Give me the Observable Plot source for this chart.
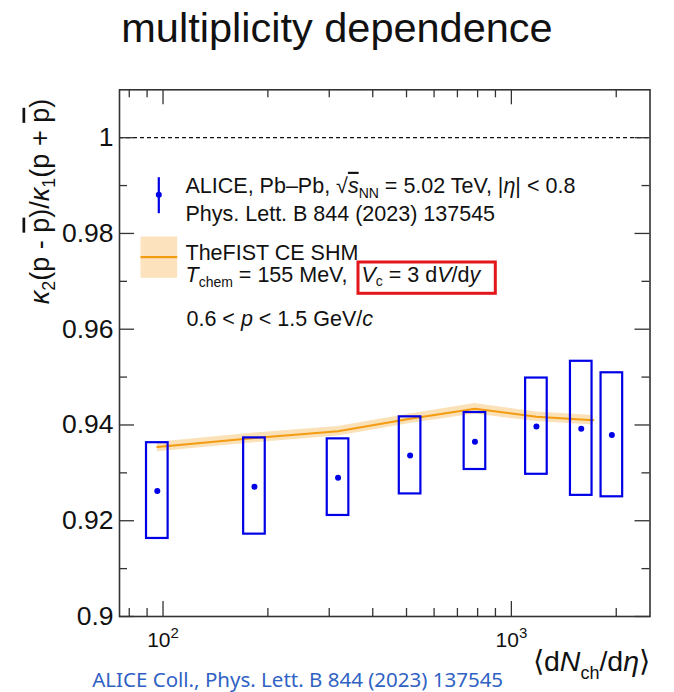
<!DOCTYPE html>
<html>
<head>
<meta charset="utf-8">
<script src="https://cdn.jsdelivr.net/npm/d3@7"></script>
<script src="https://cdn.jsdelivr.net/npm/@observablehq/plot@0.6"></script>
<style>
  body { margin: 0; background: #fff; }
  #wrap { position: relative; width: 674px; height: 692px; overflow: hidden; background: #fff; }
  #title { height: 60px; line-height: 55px; text-align: center; font-family: "Liberation Sans", Arial, sans-serif; font-size: 41.5px; color: #111; }
  #chart svg { display: block; }
</style>
</head>
<body>
<div id="wrap">
  <div id="title">multiplicity dependence</div>
  <div id="chart"></div>
</div>
<script>
// ---------------- data ----------------
const dNch     = [96.3, 183, 318, 512, 786, 1180, 1587, 1943];
const ratio    = [0.9262, 0.9271, 0.9290, 0.9336, 0.9365, 0.9397, 0.9392, 0.9379];
const sysLow   = [0.9163, 0.9172, 0.9211, 0.9256, 0.9307, 0.9297, 0.9253, 0.9250];
const sysHigh  = [0.9363, 0.9373, 0.9371, 0.9417, 0.9426, 0.9498, 0.9533, 0.9509];

const modelX   = [96.3, 183, 318, 512, 786, 1180, 1720];
const modelY   = [0.9354, 0.9373, 0.9387, 0.9413, 0.9434, 0.9417, 0.9410];
const modelErr = [0.0010, 0.0010, 0.0010, 0.0010, 0.0011, 0.0010, 0.0010];

const xMajor = [100, 1000];
const xMajorLabels = ["10²", "10³"];
const xMinor = [80, 90, 200, 300, 400, 500, 600, 700, 800, 900, 2000];
const yMajor = [0.90, 0.92, 0.94, 0.96, 0.98, 1.00];
const yMajorLabels = ["0.9", "0.92", "0.94", "0.96", "0.98", "1"];
const yMinor = [0.91, 0.93, 0.95, 0.97, 0.99];
const reference = [1];

const legendAlice1 = "ALICE, Pb–Pb, √sNN = 5.02 TeV, |η| < 0.8";
const legendAlice2 = "Phys. Lett. B 844 (2023) 137545";
const legendModel1 = "TheFIST CE SHM";
const legendModel2a = "Tchem = 155 MeV,";
const legendModel2b = "Vc = 3 dV/dy";
const legendCut = "0.6 < p < 1.5 GeV/c";
const yTitle = "κ2(p - p̄)/κ1(p + p̄)";
const xTitle = "⟨dNch/dη⟩";
const caption = "ALICE Coll., Phys. Lett. B 844 (2023) 137545";

// ---------------- layout ----------------
const W = 674, H = 632;
const mL = 119, mR = 24.5, mT = 29.3, mB = 76;
const fw = W - mL - mR, fh = H - mT - mB;
const BOX_HALF_DECADES = 0.031;
const blue = "#0000e6", orange = "#f39c12", axisColor = "#333";

const points = dNch.map((x, i) => ({x, y: ratio[i], lo: sysLow[i], hi: sysHigh[i]}));
const model = modelX.map((x, i) => ({x, y: modelY[i], lo: modelY[i] - modelErr[i], hi: modelY[i] + modelErr[i]}));

// frame-relative pixel box -> frame insets
const box = (l, t, w, h) => ({insetLeft: l, insetTop: t, insetRight: fw - l - w, insetBottom: fh - t - h});

const legendText = (txt, dx, dy, extra = {}) =>
  Plot.text([txt], {frameAnchor: "top-left", dx, dy, text: d => d, textAnchor: "start", lineAnchor: "bottom", fontSize: 21.5, fill: "#111", ...extra});

const chart = Plot.plot({
  width: W, height: H,
  marginLeft: mL, marginRight: mR, marginTop: mT, marginBottom: mB,
  style: {fontFamily: "'Liberation Sans', Arial, Helvetica, sans-serif", background: "white", color: "#111", overflow: "visible"},
  x: {type: "log", domain: [75, 2500], axis: null},
  y: {domain: [0.9, 1.01], axis: null},
  marks: [
    // reference line
    Plot.ruleY(reference, {stroke: "#111", strokeWidth: 1.3, strokeDasharray: "4,3"}),
    // model band + line
    Plot.areaY(model, {x: "x", y1: "lo", y2: "hi", fill: orange, fillOpacity: 0.3}),
    Plot.line(model, {x: "x", y: "y", stroke: orange, strokeWidth: 2}),
    // data: systematic boxes + points
    Plot.rect(points, {x1: d => d.x * Math.pow(10, -BOX_HALF_DECADES), x2: d => d.x * Math.pow(10, BOX_HALF_DECADES), y1: "lo", y2: "hi", stroke: blue, strokeWidth: 2.2, fill: "none"}),
    Plot.dot(points, {x: "x", y: "y", r: 3, fill: blue}),
    // ticks (inward, all four sides)
    Plot.tickX(xMajor, {x: d => d, insetTop: fh - 15, stroke: axisColor, strokeWidth: 1.3}),
    Plot.tickX(xMinor, {x: d => d, insetTop: fh - 8, stroke: axisColor, strokeWidth: 1.3}),
    Plot.tickX(xMajor, {x: d => d, insetBottom: fh - 15, stroke: axisColor, strokeWidth: 1.3}),
    Plot.tickX(xMinor, {x: d => d, insetBottom: fh - 8, stroke: axisColor, strokeWidth: 1.3}),
    Plot.tickY(yMajor, {y: d => d, insetRight: fw - 15, stroke: axisColor, strokeWidth: 1.3}),
    Plot.tickY(yMinor, {y: d => d, insetRight: fw - 8, stroke: axisColor, strokeWidth: 1.3}),
    Plot.tickY(yMajor, {y: d => d, insetLeft: fw - 15, stroke: axisColor, strokeWidth: 1.3}),
    Plot.tickY(yMinor, {y: d => d, insetLeft: fw - 8, stroke: axisColor, strokeWidth: 1.3}),
    Plot.frame({stroke: axisColor, strokeWidth: 1.6}),
    // tick labels
    Plot.text(yMajor, {y: d => d, text: (d, i) => yMajorLabels[i], frameAnchor: "left", dx: -6, textAnchor: "end", lineAnchor: "middle", fontSize: 26.5, fill: "#111"}),
    Plot.text(xMajor, {x: d => d, text: (d, i) => xMajorLabels[i], frameAnchor: "bottom", dy: 30.7, dx: 0, textAnchor: "middle", lineAnchor: "bottom", fontSize: 21, fill: "#111"}),
    // axis titles
    Plot.text([yTitle], {text: d => d, frameAnchor: "top-left", dx: -71, dy: 111.7, rotate: -90, textAnchor: "middle", lineAnchor: "bottom", fontSize: 27, fill: "#111"}),
    Plot.text([xTitle], {text: d => d, frameAnchor: "bottom-right", dx: 0, dy: 54, textAnchor: "end", lineAnchor: "bottom", fontSize: 28.5, fill: "#111"}),
    // legend symbols
    Plot.frame({...box(38.2, 87.4, 2.2, 36), fill: blue, stroke: "none"}),
    Plot.dot([0], {frameAnchor: "top-left", dx: 39.3, dy: 105, r: 3, fill: blue}),
    Plot.frame({...box(21, 146.7, 36.7, 41.3), fill: orange, fillOpacity: 0.28, stroke: "none"}),
    Plot.frame({...box(21, 166.2, 36.7, 2.2), fill: orange, stroke: "none"}),
    Plot.frame({...box(238.5, 172.2, 137.3, 31.3), fill: "none", stroke: "#e3161b", strokeWidth: 3}),
    // legend texts
    legendText(legendAlice1, 66, 103),
    legendText(legendAlice2, 66, 130.7),
    legendText(legendModel1, 66, 170),
    legendText(legendModel2a, 66, 192.4),
    legendText(legendModel2b, 242, 192.4),
    legendText(legendCut, 67, 236.4),
    // caption
    Plot.text([caption], {text: d => d, frameAnchor: "bottom-left", dx: -27.3, dy: 70, textAnchor: "start", lineAnchor: "bottom", fontSize: 20.5, fill: "#2f62c4", fontFamily: "'Noto Sans', sans-serif"})
  ]
});

// rich text (italics, sub/superscripts, overlines)
const rich = new Map([
  ["10²", '10<tspan dy="-9" font-size="15">2</tspan>'],
  ["10³", '10<tspan dy="-9" font-size="15">3</tspan>'],
  [legendAlice1, 'ALICE, Pb–Pb, √<tspan font-style="italic" text-decoration="overline">s</tspan><tspan dy="5" font-size="14">NN</tspan><tspan dy="-5"> = 5.02 TeV, |</tspan><tspan font-style="italic">η</tspan>| &lt; 0.8'],
  [legendModel2a, '<tspan font-style="italic">T</tspan><tspan dy="5" font-size="14">chem</tspan><tspan dy="-5"> = 155 MeV,</tspan>'],
  [legendModel2b, '<tspan font-style="italic">V</tspan><tspan dy="4" font-size="14">c</tspan><tspan dy="-4"> = 3 d</tspan><tspan font-style="italic">V</tspan>/d<tspan font-style="italic">y</tspan>'],
  [legendCut, '0.6 &lt; <tspan font-style="italic">p</tspan> &lt; 1.5 GeV/<tspan font-style="italic">c</tspan>'],
  [yTitle, '<tspan font-style="italic">κ</tspan><tspan dy="6" font-size="18">2</tspan><tspan dy="-6">(p - </tspan><tspan text-decoration="overline">p</tspan>)/<tspan font-style="italic">κ</tspan><tspan dy="6" font-size="18">1</tspan><tspan dy="-6">(p + </tspan><tspan text-decoration="overline">p</tspan>)'],
  [xTitle, '⟨d<tspan font-style="italic">N</tspan><tspan dy="8" font-size="18">ch</tspan><tspan dy="-8">/d</tspan><tspan font-style="italic">η</tspan>⟩']
]);
chart.querySelectorAll("text").forEach(t => {
  const k = t.textContent;
  if (rich.has(k)) t.innerHTML = rich.get(k);
});

document.getElementById("chart").appendChild(chart);
</script>
</body>
</html>
